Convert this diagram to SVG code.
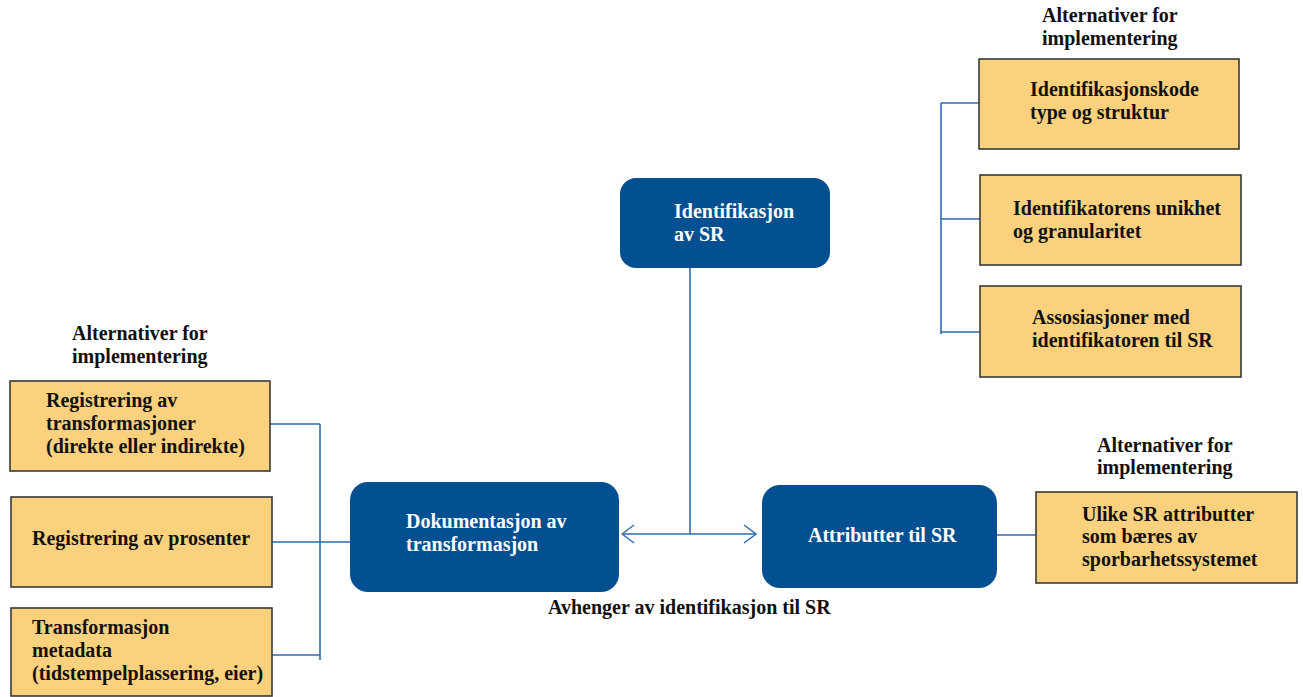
<svg xmlns="http://www.w3.org/2000/svg" width="1303" height="697" viewBox="0 0 1303 697">
<defs>
<style>
text{font-family:"Liberation Serif","Times New Roman",serif;font-weight:bold;font-size:20px;}
.dark{fill:#111;}
.light{fill:#fff;}
.alt{fill:#fbd17e;stroke:#3a3a3a;stroke-width:1.6;}
.main{fill:#024f91;}
.conn{fill:none;stroke:#2f6bb0;stroke-width:1.6;}
</style>
<marker id="chev" viewBox="0 0 14 20" refX="13" refY="10" markerWidth="14" markerHeight="20" markerUnits="userSpaceOnUse" orient="auto-start-reverse">
<path d="M1,1 L13,10 L1,19" fill="none" stroke="#2f6bb0" stroke-width="1.4"/>
</marker>
</defs>
<rect width="1303" height="697" fill="#fff"/>

<g id="connectors">
<path class="conn" d="M941,103 V334 M941,103 H979 M941,219 H980 M941,332 H980"/>
<path class="conn" d="M690,268 V534"/>
<path class="conn" d="M622,534 H756" marker-start="url(#chev)" marker-end="url(#chev)"/>
<path class="conn" d="M997,535 H1036"/>
<path class="conn" d="M320,424 V660 M270,424 H320 M272,655 H320 M272,542 H350"/>
</g>

<g id="label-alt-top">
<text class="dark" x="1042" y="22">Alternativer for</text>
<text class="dark" x="1042" y="45">implementering</text>
</g>
<g id="node-id-kode">
<rect class="alt" x="979" y="59" width="260" height="90"/>
<text class="dark" x="1030" y="96">Identifikasjonskode</text>
<text class="dark" x="1030" y="119">type og struktur</text>
</g>
<g id="node-unikhet">
<rect class="alt" x="980" y="175" width="261" height="90"/>
<text class="dark" x="1013" y="215">Identifikatorens unikhet</text>
<text class="dark" x="1013" y="238">og granularitet</text>
</g>
<g id="node-assosiasjoner">
<rect class="alt" x="980" y="286" width="261" height="91"/>
<text class="dark" x="1032" y="324">Assosiasjoner med</text>
<text class="dark" x="1032" y="347">identifikatoren til SR</text>
</g>

<g id="node-identifikasjon">
<rect class="main" x="620" y="178" width="210" height="90" rx="16"/>
<text class="light" x="674" y="218">Identifikasjon</text>
<text class="light" x="674" y="241">av SR</text>
</g>
<g id="node-dokumentasjon">
<rect class="main" x="350" y="482" width="269" height="110" rx="18"/>
<text class="light" x="406" y="528">Dokumentasjon av</text>
<text class="light" x="406" y="551">transformasjon</text>
</g>
<g id="node-attributter">
<rect class="main" x="762" y="485" width="235" height="103" rx="18"/>
<text class="light" x="808" y="542">Attributter til SR</text>
</g>
<g id="label-avhenger">
<text class="dark" x="548" y="614">Avhenger av identifikasjon til SR</text>
</g>

<g id="label-alt-right">
<text class="dark" x="1097" y="452">Alternativer for</text>
<text class="dark" x="1097" y="474">implementering</text>
</g>
<g id="node-ulike">
<rect class="alt" x="1036" y="492" width="261" height="91"/>
<text class="dark" x="1082" y="521">Ulike SR attributter</text>
<text class="dark" x="1082" y="543">som bæres av</text>
<text class="dark" x="1082" y="566">sporbarhetssystemet</text>
</g>

<g id="label-alt-left">
<text class="dark" x="72" y="340">Alternativer for</text>
<text class="dark" x="72" y="363">implementering</text>
</g>
<g id="node-reg-trans">
<rect class="alt" x="10" y="381" width="260" height="90"/>
<text class="dark" x="46" y="407">Registrering av</text>
<text class="dark" x="46" y="430">transformasjoner</text>
<text class="dark" x="46" y="453">(direkte eller indirekte)</text>
</g>
<g id="node-reg-pros">
<rect class="alt" x="11" y="497" width="261" height="90"/>
<text class="dark" x="32" y="545">Registrering av prosenter</text>
</g>
<g id="node-metadata">
<rect class="alt" x="11" y="608" width="261" height="88"/>
<text class="dark" x="32" y="634">Transformasjon</text>
<text class="dark" x="32" y="657">metadata</text>
<text class="dark" x="32" y="680">(tidstempelplassering, eier)</text>
</g>
</svg>
